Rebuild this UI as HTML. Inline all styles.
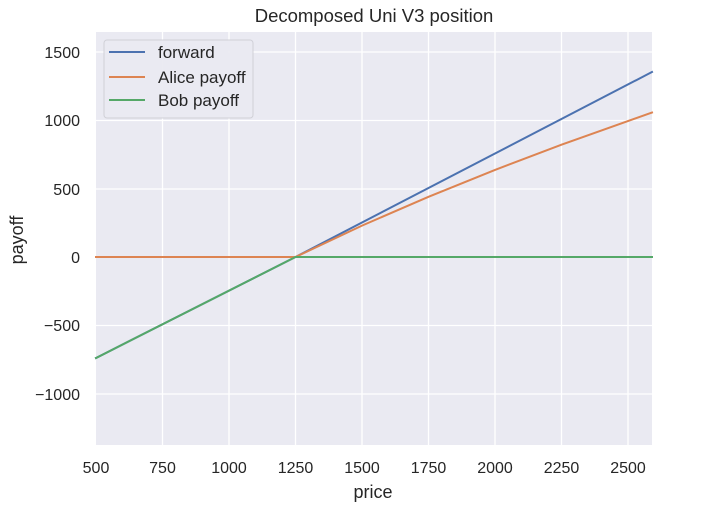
<!DOCTYPE html>
<html><head><style>
html,body{margin:0;padding:0;background:#fff;}
svg{display:block;font-family:"Liberation Sans",Arial,sans-serif;}
</style></head><body>
<svg width="720" height="519" viewBox="0 0 720 519">
<rect x="96" y="32" width="556" height="413" fill="#eaeaf2"/>
<g stroke="#fff" stroke-width="1.3">
<line x1="162.5" y1="32" x2="162.5" y2="445"/>
<line x1="229" y1="32" x2="229" y2="445"/>
<line x1="295.5" y1="32" x2="295.5" y2="445"/>
<line x1="362" y1="32" x2="362" y2="445"/>
<line x1="428.5" y1="32" x2="428.5" y2="445"/>
<line x1="495" y1="32" x2="495" y2="445"/>
<line x1="561.5" y1="32" x2="561.5" y2="445"/>
<line x1="628" y1="32" x2="628" y2="445"/>
<line x1="96" y1="52" x2="652" y2="52"/>
<line x1="96" y1="120.5" x2="652" y2="120.5"/>
<line x1="96" y1="189" x2="652" y2="189"/>
<line x1="96" y1="257" x2="652" y2="257"/>
<line x1="96" y1="325.5" x2="652" y2="325.5"/>
<line x1="96" y1="394" x2="652" y2="394"/>
</g>
<g fill="none" stroke-width="2" stroke-linecap="square">
<polyline stroke="#4c72b0" points="96,358 295.5,257 652,72"/>
<polyline stroke="#dd8452" points="96,257 295.5,257 362,225.6 428.5,196.8 495,169.9 561.5,144.7 652,112.5"/>
<polyline stroke="#55a868" points="96,358 295.5,257 652,257"/>
</g>
<g font-size="16" fill="#262626" text-anchor="middle">
<text x="96" y="473">500</text>
<text x="162.5" y="473">750</text>
<text x="229" y="473">1000</text>
<text x="295.5" y="473">1250</text>
<text x="362" y="473">1500</text>
<text x="428.5" y="473">1750</text>
<text x="495" y="473">2000</text>
<text x="561.5" y="473">2250</text>
<text x="628" y="473">2500</text>
</g>
<g font-size="16" fill="#262626" text-anchor="end">
<text x="80" y="58">1500</text>
<text x="80" y="126">1000</text>
<text x="80" y="195">500</text>
<text x="80" y="263">0</text>
<text x="80" y="331">−500</text>
<text x="80" y="400">−1000</text>
</g>
<text x="373" y="498" font-size="18" fill="#262626" text-anchor="middle">price</text>
<text transform="translate(23,240) rotate(-90)" font-size="18" fill="#262626" text-anchor="middle">payoff</text>
<text x="374" y="22" font-size="18.5" fill="#262626" text-anchor="middle">Decomposed Uni V3 position</text>
<rect x="104" y="40" width="149" height="78" rx="3" fill="#eaeaf2" stroke="#cfcfd6" stroke-width="1" opacity="0.95"/>
<g stroke-width="2">
<line x1="109" y1="52" x2="145" y2="52" stroke="#4c72b0"/>
<line x1="109" y1="77" x2="145" y2="77" stroke="#dd8452"/>
<line x1="109" y1="100" x2="145" y2="100" stroke="#55a868"/>
</g>
<g font-size="17" fill="#262626">
<text x="158" y="58">forward</text>
<text x="158" y="83">Alice payoff</text>
<text x="158" y="106">Bob payoff</text>
</g>
</svg>
</body></html>
